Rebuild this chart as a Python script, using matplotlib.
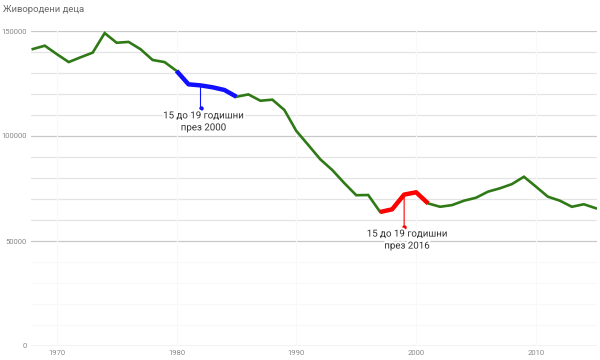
import numpy as np
import matplotlib
matplotlib.use("Agg")
import matplotlib.pyplot as plt
import matplotlib.patheffects as pe
from matplotlib.transforms import offset_copy

# Live births per year
years = list(range(1968, 2016))
births = [
    141400, 143000, 139000, 135200, 137500, 139700, 149000, 144400,
    144800, 141300, 136200, 135200, 131000, 124600, 124100, 123200,
    121900, 118700, 119800, 116800, 117300, 112400, 102400, 95700,
    88900, 83800, 77600, 71800, 71900, 63800, 65100, 72100,
    73200, 67900, 66300, 67100, 69200, 70600, 73500, 75100,
    77100, 80600, 75900, 71100, 69200, 66300, 67500, 65600,
]

# Highlighted spans
blue_span = (1980, 1985)
red_span = (1997, 2001)
blue_label = "15 до 19 годишни\nпрез 2000"
red_label = "15 до 19 годишни\nпрез 2016"
blue_year = 1982
red_year = 1999

title = "Живородени деца"
y_ticks = [0, 50000, 100000, 150000]
x_ticks = [1970, 1980, 1990, 2000, 2010]

plt.rcParams["font.family"] = ["Roboto", "DejaVu Sans"]

fig = plt.figure(figsize=(6, 3.6), dpi=100)
ax = fig.add_axes([31 / 600, 14 / 360, 566 / 600, 315 / 360])

yrs = np.array(years)
vals = np.array(births)

# gridlines
for v in range(10000, 150001, 10000):
    if v % 50000 == 0:
        c = "#c8c8c8"
    elif v > 50000:
        c = "#e4e4e4"
    else:
        c = "#f8f8f8"
    ax.axhline(v, color=c, lw=0.9, zorder=0)
ax.axhline(0, color="#bdbdbd", lw=1.0, zorder=0)
for xv in x_ticks:
    ax.axvline(xv, color="#f8f8f8", lw=0.9, zorder=0)

ax.plot(yrs, vals, color="#2f7a17", lw=1.9, zorder=3, solid_joinstyle="miter")

m = (yrs >= blue_span[0]) & (yrs <= blue_span[1])
ax.plot(yrs[m], vals[m], color="#1010ff", lw=3.2, zorder=4,
        solid_capstyle="butt")
m = (yrs >= red_span[0]) & (yrs <= red_span[1])
ax.plot(yrs[m], vals[m], color="#ff0000", lw=3.2, zorder=4,
        solid_capstyle="butt")

halo = [pe.withStroke(linewidth=3, foreground="white")]


def annotate(year, label, color, drop):
    y = births[years.index(year)]
    ax.annotate("", xy=(year, y), xytext=(0, -drop), textcoords="offset pixels",
                arrowprops=dict(arrowstyle="-", color=color, lw=0.8,
                                shrinkA=0, shrinkB=0), zorder=5)
    tr = offset_copy(ax.transData, fig=fig, x=0, y=-drop, units="dots")
    ax.plot([year], [y], "o", color=color, ms=2.2, transform=tr, zorder=5)
    ax.annotate(label, xy=(year, y), xytext=(3, -drop - 2),
                textcoords="offset pixels", ha="center", va="top",
                fontsize=7, color="#333333", linespacing=1.25,
                path_effects=halo, zorder=6)


annotate(blue_year, blue_label, "#1010ff", 23)
annotate(red_year, red_label, "#ff0000", 32)

ax.set_xlim(1967.85, 2015.1)
ax.set_ylim(0, 150000)
ax.set_yticks(y_ticks)
ax.set_yticklabels([str(v) for v in y_ticks])
ax.set_xticks(x_ticks)
ax.set_xticklabels([str(v) for v in x_ticks])
ax.tick_params(length=0, labelsize=5.5, labelcolor="#888888", pad=3)
for s in ax.spines.values():
    s.set_visible(False)

fig.text(3 / 600, 1 - 10 / 360, title, fontsize=6.8, color="#6a6a6a",
         ha="left", va="center")

fig.savefig("out.png", dpi=100)
